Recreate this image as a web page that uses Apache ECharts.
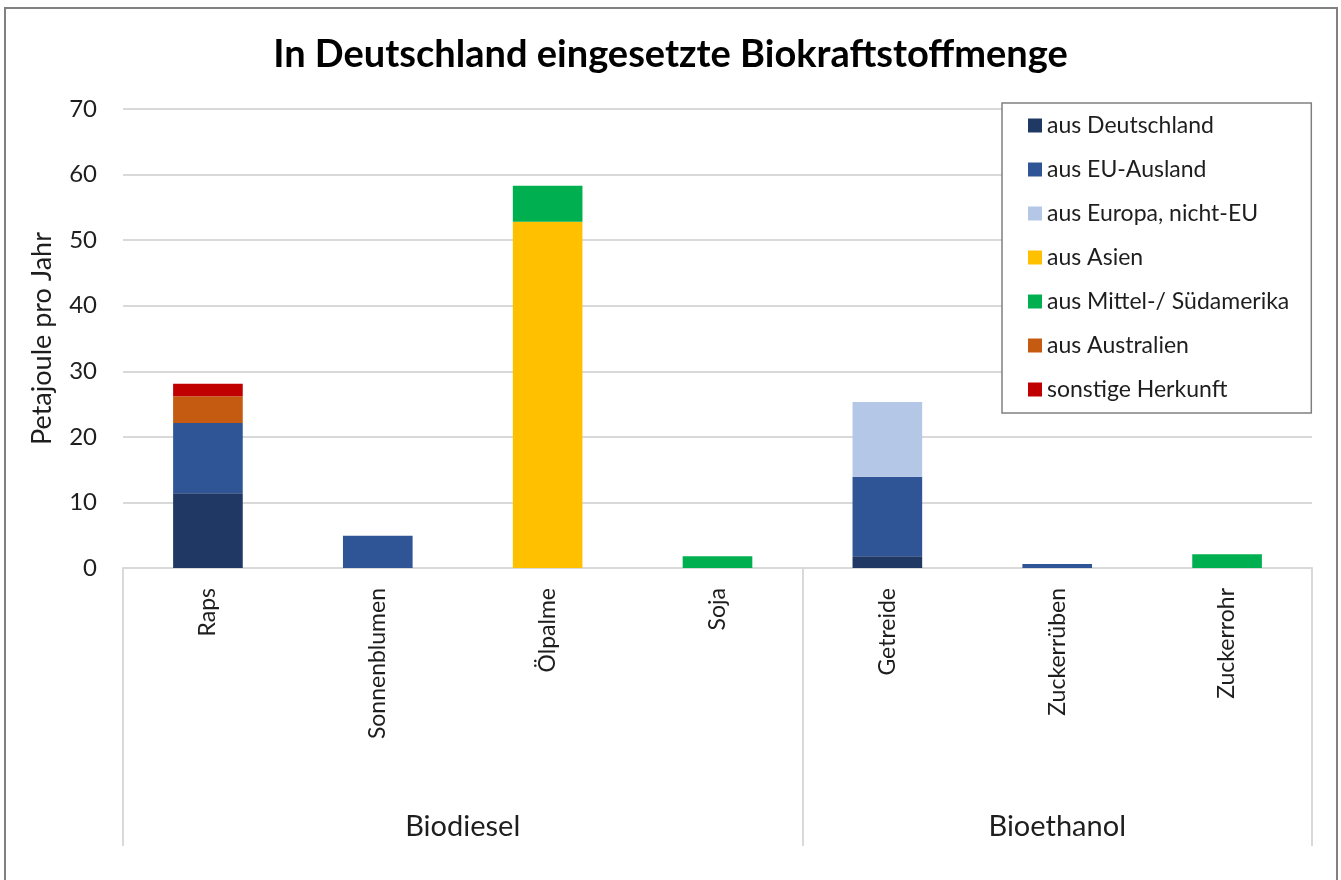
<!DOCTYPE html>
<html>
<head>
<meta charset="utf-8">
<script src="https://cdn.jsdelivr.net/npm/echarts@6/dist/echarts.min.js"></script>
<style>
html,body{margin:0;padding:0;background:#fff;}
#chart{width:1341px;height:880px;}
</style>
</head>
<body>
<div id="chart"></div>
<script>
const titleText = 'In Deutschland eingesetzte Biokraftstoffmenge';
const yAxisName = 'Petajoule pro Jahr';
const categories = ['Raps', 'Sonnenblumen', 'Ölpalme', 'Soja', 'Getreide', 'Zuckerrüben', 'Zuckerrohr'];
const groups = ['Biodiesel', 'Bioethanol'];
const groupBoundaries = [0, 4, 7];
const groupCenters = [2, 5.5];
const yTicks = [0, 10, 20, 30, 40, 50, 60, 70];

const seriesNames = ['aus Deutschland', 'aus EU-Ausland', 'aus Europa, nicht-EU', 'aus Asien', 'aus Mittel-/ Südamerika', 'aus Australien', 'sonstige Herkunft'];
const ausDeutschland   = [11.4, 0,   0,    0,   1.8,  0,   0];
const ausEUAusland     = [10.7, 4.9, 0,    0,   12.1, 0.6, 0];
const ausEuropaNichtEU = [0,    0,   0,    0,   11.4, 0,   0];
const ausAsien         = [0,    0,   52.8, 0,   0,    0,   0];
const ausMittelSuedam  = [0,    0,   5.5,  1.8, 0,    0,   2.1];
const ausAustralien    = [4.1,  0,   0,    0,   0,    0,   0];
const sonstige         = [1.9,  0,   0,    0,   0,    0,   0];
const seriesData = [ausDeutschland, ausEUAusland, ausEuropaNichtEU, ausAsien, ausMittelSuedam, ausAustralien, sonstige];
const colors = ['#203864', '#2F5597', '#B4C7E7', '#FFC000', '#00B050', '#C55A11', '#C00000'];

const FONT = 'Lato';
const TXT = '#1e1e1e';

const chart = echarts.init(document.getElementById('chart'));
chart.setOption({
  animation: false,
  backgroundColor: '#ffffff',
  textStyle: { fontFamily: FONT },
  graphic: [{
    type: 'rect',
    shape: { x: 5, y: 8, width: 1332, height: 900 },
    style: { fill: 'none', stroke: '#808080', lineWidth: 2 },
    silent: true
  }],
  title: {
    text: titleText,
    left: 'center',
    top: 31,
    textStyle: { fontFamily: FONT, fontSize: 38, fontWeight: 'bold', color: '#000' }
  },
  legend: {
    orient: 'vertical',
    left: 1002,
    top: 103,
    data: seriesNames,
    itemWidth: 14,
    itemHeight: 14,
    itemGap: 21,
    padding: [11, 22, 12, 26],
    borderColor: '#808080',
    borderWidth: 1.5,
    backgroundColor: '#fff',
    icon: 'rect',
    textStyle: { fontFamily: FONT, fontSize: 23, color: TXT }
  },
  grid: { left: 123, right: 29, top: 109, bottom: 312, containLabel: false },
  xAxis: [{
    type: 'category',
    data: categories,
    axisLine: { show: true, lineStyle: { color: '#d9d9d9', width: 2 } },
    axisTick: { show: false },
    axisLabel: { rotate: 90, margin: 20, fontFamily: FONT, fontSize: 23, color: TXT }
  }, {
    type: 'value',
    min: 0,
    max: 7,
    position: 'bottom',
    offset: 0,
    axisLine: { show: false },
    splitLine: { show: false },
    axisTick: { show: true, customValues: groupBoundaries, length: 278, lineStyle: { color: '#d9d9d9', width: 2 } },
    axisLabel: {
      show: true,
      customValues: groupCenters,
      margin: 244,
      fontFamily: FONT, fontSize: 29, color: TXT,
      formatter: function (v) { return groups[groupCenters.indexOf(v)]; }
    }
  }],
  yAxis: {
    type: 'value',
    min: 0,
    max: 70,
    interval: 10,
    name: yAxisName,
    nameLocation: 'middle',
    nameGap: 67,
    nameTextStyle: { fontFamily: FONT, fontSize: 27, color: TXT },
    axisLine: { show: false },
    axisTick: { show: false },
    axisLabel: { margin: 26, fontFamily: FONT, fontSize: 24, color: TXT },
    splitLine: { lineStyle: { color: '#d9d9d9', width: 2 } }
  },
  series: seriesNames.map(function (n, i) {
    return {
      name: n,
      type: 'bar',
      stack: 'total',
      xAxisIndex: 0,
      barWidth: '41%',
      itemStyle: { color: colors[i] },
      data: seriesData[i]
    };
  })
});
</script>
</body>
</html>
